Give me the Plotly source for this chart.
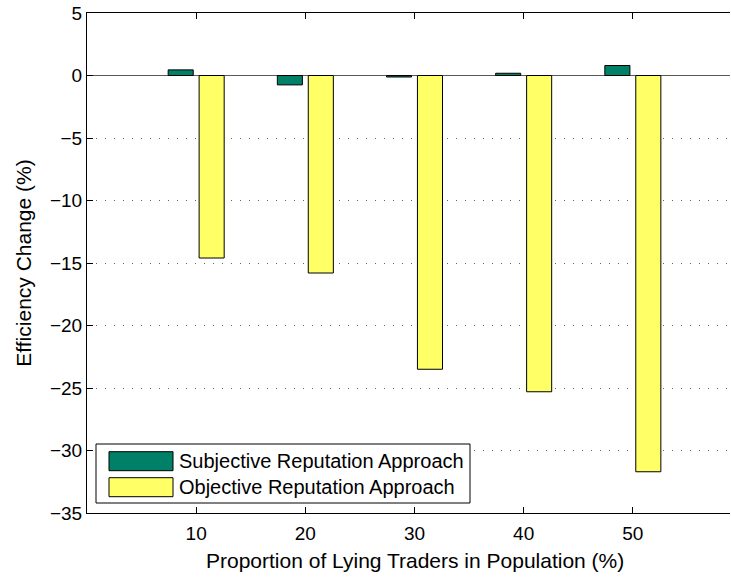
import plotly.graph_objects as go

categories = [10, 20, 30, 40, 50]
subjective = [0.45, -0.75, -0.12, 0.18, 0.8]
objective = [-14.6, -15.8, -23.5, -25.3, -31.7]
series_names = ["Subjective Reputation Approach", "Objective Reputation Approach"]
y_ticks = [5, 0, -5, -10, -15, -20, -25, -30, -35]
y_tick_text = ["5" if v > 0 else ("0" if v == 0 else "\u2212" + str(-v)) for v in y_ticks]
x_title = "Proportion of Lying Traders in Population (%)"
y_title = "Efficiency Change (%)"

GREEN = "rgb(0,128,102)"
YELLOW = "rgb(255,255,102)"
FONT = "Liberation Sans, Arial, Helvetica, sans-serif"

fig = go.Figure()
fig.add_trace(go.Bar(x=categories, y=subjective, name=series_names[0],
                     marker=dict(color=GREEN, line=dict(color="black", width=1)),
                     showlegend=False))
fig.add_trace(go.Bar(x=categories, y=objective, name=series_names[1],
                     marker=dict(color=YELLOW, line=dict(color="black", width=1)),
                     showlegend=False))

# plot area in pixels: x 87..730, y 13..513
def px(x):
    return (x - 87) / 643.0

def py(y):
    return (513 - y) / 500.0

shapes = [
    dict(type="rect", xref="paper", yref="paper", x0=px(96), x1=px(470), y0=py(503), y1=py(444),
         line=dict(color="black", width=1), fillcolor="white", layer="above"),
    dict(type="rect", xref="paper", yref="paper", x0=px(109), x1=px(173), y0=py(470.7), y1=py(451.7),
         line=dict(color="black", width=1), fillcolor=GREEN, layer="above"),
    dict(type="rect", xref="paper", yref="paper", x0=px(109), x1=px(173), y0=py(496.7), y1=py(477.7),
         line=dict(color="black", width=1), fillcolor=YELLOW, layer="above"),
]
annotations = [
    dict(xref="paper", yref="paper", x=px(177), y=py(461), text=series_names[0], showarrow=False,
         xanchor="left", yanchor="middle", font=dict(family=FONT, size=20, color="black")),
    dict(xref="paper", yref="paper", x=px(177), y=py(487), text=series_names[1], showarrow=False,
         xanchor="left", yanchor="middle", font=dict(family=FONT, size=20, color="black")),
    dict(xref="x", yref="paper", x=30, y=py(560), text=x_title, showarrow=False,
         xanchor="center", yanchor="middle", font=dict(family=FONT, size=21, color="black")),
]

fig.update_layout(
    width=731, height=577,
    margin=dict(l=87, r=1, t=13, b=64, autoexpand=False),
    plot_bgcolor="white", paper_bgcolor="white",
    barmode="group", bargap=0.433, bargroupgap=0.19,
    font=dict(family=FONT, size=19, color="black"),
    shapes=shapes, annotations=annotations,
    xaxis=dict(range=[0, 58.9], tickvals=categories, ticktext=[str(c) for c in categories],
               ticks="inside", ticklen=6, tickcolor="black", showline=True, linecolor="black",
               linewidth=1, mirror="ticks", showgrid=False, zeroline=False,
               tickfont=dict(size=19), automargin=False, ticklabelstandoff=3),
    yaxis=dict(range=[-35, 5], tickvals=y_ticks, ticktext=y_tick_text,
               ticks="inside", ticklen=6, tickcolor="black", showline=True, linecolor="black",
               linewidth=1, mirror=False, showgrid=True, gridcolor="rgb(100,100,100)",
               griddash="1px,8px", gridwidth=1, zeroline=True, zerolinecolor="rgb(90,90,90)",
               zerolinewidth=1,
               title=dict(text=y_title, standoff=12, font=dict(size=21)),
               tickfont=dict(size=19), automargin=False),
)

fig.write_html("out.html", config={"displayModeBar": False},
               post_script="document.body.style.margin='0';")
